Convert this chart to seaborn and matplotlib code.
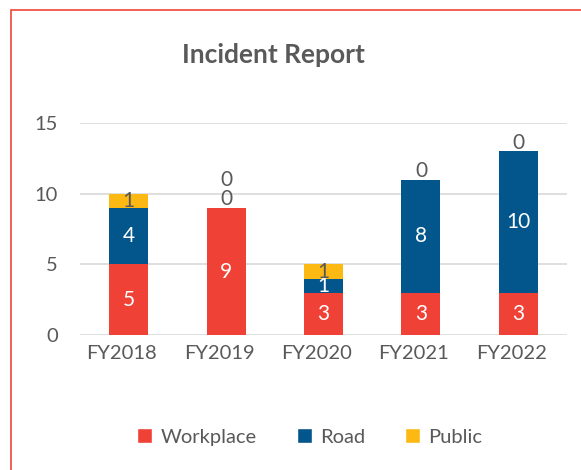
"""Incident Report - stacked bars by fiscal year (Workplace / Road / Public)."""

import matplotlib

matplotlib.use("Agg")
import matplotlib.pyplot as plt
import pandas as pd
import seaborn as sns
from matplotlib.patches import Patch, Rectangle
from matplotlib.transforms import ScaledTranslation

years = ["FY2018", "FY2019", "FY2020", "FY2021", "FY2022"]
workplace = [5, 9, 3, 3, 3]
road = [4, 0, 1, 8, 10]
public = [1, 0, 1, 0, 0]

series = ["Workplace", "Road", "Public"]
COLORS = {"Workplace": "#EF4136", "Road": "#02568B", "Public": "#FDB913"}
LABEL_COLORS = {"Workplace": "white", "Road": "white", "Public": "#595959"}
GREY = "#595959"

sns.set_theme(style="white")
plt.rcParams["font.family"] = ["Lato", "DejaVu Sans"]

df = pd.DataFrame({"year": years, "Workplace": workplace, "Road": road, "Public": public})
cum = df[series].cumsum(axis=1)

fig = plt.figure(figsize=(5.81, 4.70), dpi=100)
ax = fig.add_axes([0.1377, 0.287, 0.8383, 0.451])

# stacked via overlaying cumulative totals, tallest first
for s in reversed(series):
    sns.barplot(x=df["year"], y=cum[s], color=COLORS[s], width=0.4,
                saturation=1, ax=ax, zorder=3, edgecolor="none")

# value labels: centred in segment, zeros sit above the stack
for i in range(len(years)):
    zero_n = 0
    for s in series:
        v = df.loc[i, s]
        top = cum.loc[i, s]
        if v == 0:
            ax.annotate("0", (i, top), xytext=(0, -1 + 14 * zero_n),
                        textcoords="offset points", ha="center", va="bottom",
                        fontsize=15, color=GREY, zorder=5)
            zero_n += 1
        else:
            ax.text(i, top - v / 2, str(v), ha="center", va="center",
                    fontsize=15, color=LABEL_COLORS[s], zorder=5)

ax.set_ylim(0, 15)
ax.set_yticks([0, 5, 10, 15])
ax.set_xlim(-0.5, 4.5)
ax.yaxis.grid(True, color="#D9D9D9", linewidth=1.2, zorder=0)
ax.set_axisbelow(True)
sns.despine(ax=ax, left=True, bottom=True, top=True, right=True)
ax.set_xlabel("")
ax.set_ylabel("")
ax.tick_params(axis="both", length=0, labelsize=14.5, labelcolor=GREY)
ax.tick_params(axis="y", pad=16)
ax.tick_params(axis="x", pad=7)

# category labels sit a little left of the bar centres in the source
shift = ScaledTranslation(-7 / 100, 0, fig.dpi_scale_trans)
for lbl in ax.get_xticklabels():
    lbl.set_transform(lbl.get_transform() + shift)

fig.text(0.471, 0.883, "Incident Report", ha="center", va="center",
         fontsize=19, fontweight="bold", color=GREY)

handles = [Patch(facecolor=COLORS[s], label=s) for s in series]
fig.legend(handles=handles, loc="center", bbox_to_anchor=(0.533, 0.07),
           ncol=3, frameon=False, fontsize=14.5, labelcolor=GREY,
           handlelength=0.75, handleheight=0.75, handletextpad=0.4,
           columnspacing=2.0)

# chart-area border (runs off the right/bottom edge in the source)
fig.patches.append(Rectangle((0.019, -0.1), 1.2, 1.079, transform=fig.transFigure,
                             fill=False, edgecolor="#F0443A", linewidth=1.2))

fig.savefig("out.png", dpi=100)
